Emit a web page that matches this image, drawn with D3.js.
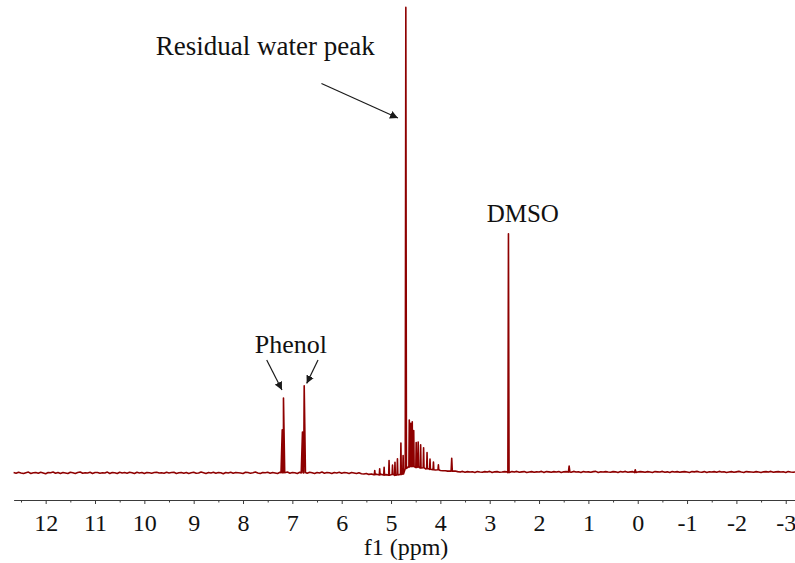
<!DOCTYPE html>
<html>
<head>
<meta charset="utf-8">
<script src="https://cdn.jsdelivr.net/npm/d3@7"></script>
<style>
  html, body { margin: 0; padding: 0; background: #fff; }
  svg { display: block; }
</style>
</head>
<body>
<svg id="chart" width="795" height="563"></svg>
<script>
// 1H NMR spectrum (f1, ppm) — intensities in relative units (water peak = 100)

// Baseline readings every 0.05 ppm, starting at 12.65 ppm and going upfield
const baselineStartPpm = 12.65;
const baselineStepPpm = 0.05;
const baselineNoise = [
  // 12.65 – 5.80 ppm
  0.1, -0.05, 0.15, 0.0, -0.1, 0.05, 0.2, -0.1, 0.05, 0.1,
  -0.05, 0.15, 0.0, -0.15, 0.1, 0.05, 0.2, -0.05, 0.1, -0.1,
  0.1, 0.0, -0.1, 0.15, 0.05, -0.1, 0.1, 0.2, -0.05, 0.05,
  0.0, 0.15, -0.1, 0.1, 0.1, -0.05, 0.05, 0.0, 0.2, -0.1,
  0.1, 0.05, -0.1, 0.15, 0.0, 0.1, -0.05, 0.15, 0.05, -0.1,
  0.15, 0.0, 0.1, -0.1, 0.1, 0.05, -0.05, 0.1, 0.15, 0.0,
  0.05, -0.05, 0.15, 0.0, 0.1, 0.15, -0.1, 0.05, 0.1, -0.05,
  0.1, -0.1, 0.05, 0.15, -0.05, 0.0, 0.2, 0.05, -0.1, 0.1,
  0.0, 0.15, -0.05, 0.1, 0.05, -0.15, 0.1, 0.0, 0.15, -0.05,
  0.1, 0.05, 0.0, -0.1, 0.15, 0.1, -0.05, 0.05, 0.2, 0.0,
  -0.1, 0.1, 0.05, 0.15, -0.05, 0.1, 0.0, -0.1, 0.15, 0.05,
  0.0, 0.2, -0.05, 0.1, 0.05, -0.1, 0.15, 0.0, 0.1, -0.05,
  0.15, 0.05, -0.1, 0.1, 0.0, 0.2, -0.05, 0.1, 0.05, -0.1,
  0.1, 0.0, 0.15, -0.05, 0.1, 0.05, -0.1, 0.1,
  // 5.75 – 4.75 ppm
  0.0, -0.1, 0.05, -0.15, -0.2, -0.1, -0.3, -0.2, -0.35, -0.25,
  -0.4, -0.3, -0.45, -0.35, -0.5, -0.4, -0.3, -0.5, -0.4, -0.3, -0.2,
  // 4.70 – 3.70 ppm
  1.0, 1.3, 1.5, 1.4, 1.2, 1.3, 1.1, 1.15, 0.9, 0.95,
  0.8, 0.7, 0.65, 0.7, 0.55, 0.5, 0.5, 0.4, 0.45, 0.4, 0.45,
  // 3.65 – -3.20 ppm
  0.3, 0.2, 0.35, 0.15, 0.3, 0.2, 0.25, 0.1, 0.3, 0.2,
  0.15, 0.3, 0.2, 0.35, 0.1, 0.25, 0.3, 0.15, 0.2, 0.3,
  0.25, 0.1, 0.3, 0.2, 0.35, 0.15, 0.25, 0.3, 0.1, 0.2,
  0.3, 0.15, 0.25, 0.2, 0.35, 0.1, 0.3, 0.25, 0.15, 0.3,
  0.2, 0.3, 0.1, 0.25, 0.3, 0.2, 0.15, 0.35, 0.2, 0.25,
  0.1, 0.3, 0.2, 0.25, 0.15, 0.3, 0.35, 0.1, 0.25, 0.2,
  0.3, 0.2, 0.15, 0.3, 0.25, 0.1, 0.3, 0.2, 0.35, 0.15,
  0.25, 0.3, 0.1, 0.2, 0.3, 0.25, 0.15, 0.3, 0.2, 0.1,
  0.3, 0.25, 0.2, 0.35, 0.15, 0.25, 0.1, 0.3, 0.2, 0.3,
  0.15, 0.25, 0.3, 0.2, 0.1, 0.3, 0.25, 0.35, 0.2, 0.15,
  0.3, 0.1, 0.25, 0.2, 0.3, 0.15, 0.35, 0.2, 0.25, 0.1,
  0.2, 0.3, 0.15, 0.25, 0.35, 0.2, 0.1, 0.3, 0.25, 0.2,
  0.15, 0.3, 0.2, 0.1, 0.25, 0.3, 0.2, 0.35, 0.15, 0.25,
  0.3, 0.2, 0.25, 0.1, 0.3, 0.2, 0.15, 0.25
];

// Resolved lines: chemical shift (ppm), height, half width at the foot (ppm)
const peakPpm = [
  7.205, 7.18,                                   // phenol
  6.795, 6.76,                                   // phenol
  5.33, 5.23, 5.14, 5.04, 4.97, 4.92, 4.87, 4.80, 4.755,
  4.70,                                          // residual water
  4.63, 4.60, 4.57, 4.54, 4.49, 4.45, 4.40, 4.34, 4.27, 4.21, 4.14, 4.04,
  3.77,
  2.62,                                          // DMSO
  1.39, 0.05
];
const peakHeight = [
  9.3, 16.2,
  8.9, 18.8,
  0.9, 1.3, 1.7, 3.2, 2.0, 2.8, 3.5, 6.8, 4.0,
  100,
  10.2, 9.3, 9.7, 7.8, 5.4, 5.4, 5.0, 4.3, 3.5, 2.2, 1.7, 1.1,
  2.8,
  51.8,
  1.3, 0.6
];
const peakWidth = [
  0.025, 0.025,
  0.025, 0.025,
  0.008, 0.008, 0.008, 0.008, 0.008, 0.008, 0.008, 0.008, 0.008,
  0.012,
  0.008, 0.008, 0.008, 0.008, 0.008, 0.008, 0.008, 0.008, 0.008, 0.008, 0.008, 0.008,
  0.012,
  0.012,
  0.015, 0.015
];

// Axis ticks (ppm)
const majorTicks = [12, 11, 10, 9, 8, 7, 6, 5, 4, 3, 2, 1, 0, -1, -2, -3];
const minorTicks = [12.5, 11.5, 10.5, 9.5, 8.5, 7.5, 6.5, 5.5, 4.5, 3.5, 2.5, 1.5, 0.5, -0.5, -1.5, -2.5];

// Annotations: [text, ppm, intensity, font size]
const labels = [
  ["Residual water peak", 7.55, 90.6, 27],
  ["Phenol", 7.03, 26.0, 26],
  ["DMSO", 2.33, 54.5, 25]
];
// Arrows: [from ppm, from intensity, to ppm, to intensity]
const arrows = [
  [6.41, 84.5, 4.86, 77.0],
  [7.52, 24.5, 7.21, 18.0],
  [6.48, 24.5, 6.71, 19.4]
];

const svg = d3.select("#chart");

const x = d3.scaleLinear().domain([12.65, -3.2]).range([13.6, 795.6]);
const y = d3.scaleLinear().domain([0, 100]).range([473, 12]);

// ---- spectrum trace ----
const basePts = baselineNoise.map((v, i) => [baselineStartPpm - i * baselineStepPpm, v]);
const baseAt = ppm => {
  const i = Math.round((baselineStartPpm - ppm) / baselineStepPpm);
  return baselineNoise[Math.max(0, Math.min(baselineNoise.length - 1, i))];
};
const pts = basePts.filter(([p]) =>
  !peakPpm.some((c, k) => Math.abs(p - c) <= peakWidth[k] + 0.005));
peakPpm.forEach((c, k) => {
  const b = baseAt(c);
  pts.push([c + peakWidth[k], b]);
  pts.push([c, b + peakHeight[k]]);
  pts.push([c - peakWidth[k], b]);
});
pts.sort((a, b) => b[0] - a[0]);

const line = d3.line().x(d => x(d[0])).y(d => y(d[1]));
svg.append("path")
  .datum(pts)
  .attr("d", line)
  .attr("fill", "none")
  .attr("stroke", "#8e0000")
  .attr("stroke-width", 1.6)
  .attr("stroke-linejoin", "round");

// ---- axis ----
const axisY = 500;
const serif = "'Liberation Serif', 'Times New Roman', serif";
const gAxis = svg.append("g")
  .attr("transform", `translate(0,${axisY})`)
  .call(d3.axisBottom(x).tickValues(majorTicks).tickSize(4).tickSizeOuter(0)
    .tickFormat(d => String(d)));
gAxis.select(".domain").attr("stroke", "#3a3a3a");
gAxis.selectAll(".tick line").attr("stroke", "#3a3a3a");
gAxis.selectAll("text")
  .attr("y", 31).attr("dy", null)
  .attr("fill", "#111")
  .style("font-family", serif)
  .style("font-size", "24px");

const gMinor = svg.append("g")
  .attr("transform", `translate(0,${axisY})`)
  .call(d3.axisBottom(x).tickValues(minorTicks).tickSize(2.5).tickSizeOuter(0).tickFormat(""));
gMinor.select(".domain").remove();
gMinor.selectAll(".tick line").attr("stroke", "#3a3a3a");

svg.append("text")
  .attr("x", 406).attr("y", 555)
  .attr("text-anchor", "middle")
  .attr("fill", "#111")
  .style("font-family", serif)
  .style("font-size", "24px")
  .text("f1 (ppm)");

// ---- annotations ----
svg.append("defs").append("marker")
  .attr("id", "arrowhead")
  .attr("viewBox", "0 0 10 10")
  .attr("refX", 10).attr("refY", 5)
  .attr("markerWidth", 8).attr("markerHeight", 8)
  .attr("markerUnits", "userSpaceOnUse")
  .attr("orient", "auto")
  .append("path")
  .attr("d", "M0,0 L10,5 L0,10 Z")
  .attr("fill", "#1a1a1a");

svg.selectAll("line.arrow")
  .data(arrows)
  .enter().append("line")
  .attr("class", "arrow")
  .attr("x1", d => x(d[0])).attr("y1", d => y(d[1]))
  .attr("x2", d => x(d[2])).attr("y2", d => y(d[3]))
  .attr("stroke", "#1a1a1a")
  .attr("stroke-width", 1.2)
  .attr("marker-end", "url(#arrowhead)");

svg.selectAll("text.label")
  .data(labels)
  .enter().append("text")
  .attr("class", "label")
  .attr("x", d => x(d[1])).attr("y", d => y(d[2]))
  .attr("text-anchor", "middle")
  .attr("fill", "#111")
  .style("font-family", serif)
  .style("font-size", d => d[3] + "px")
  .text(d => d[0]);
</script>
</body>
</html>
